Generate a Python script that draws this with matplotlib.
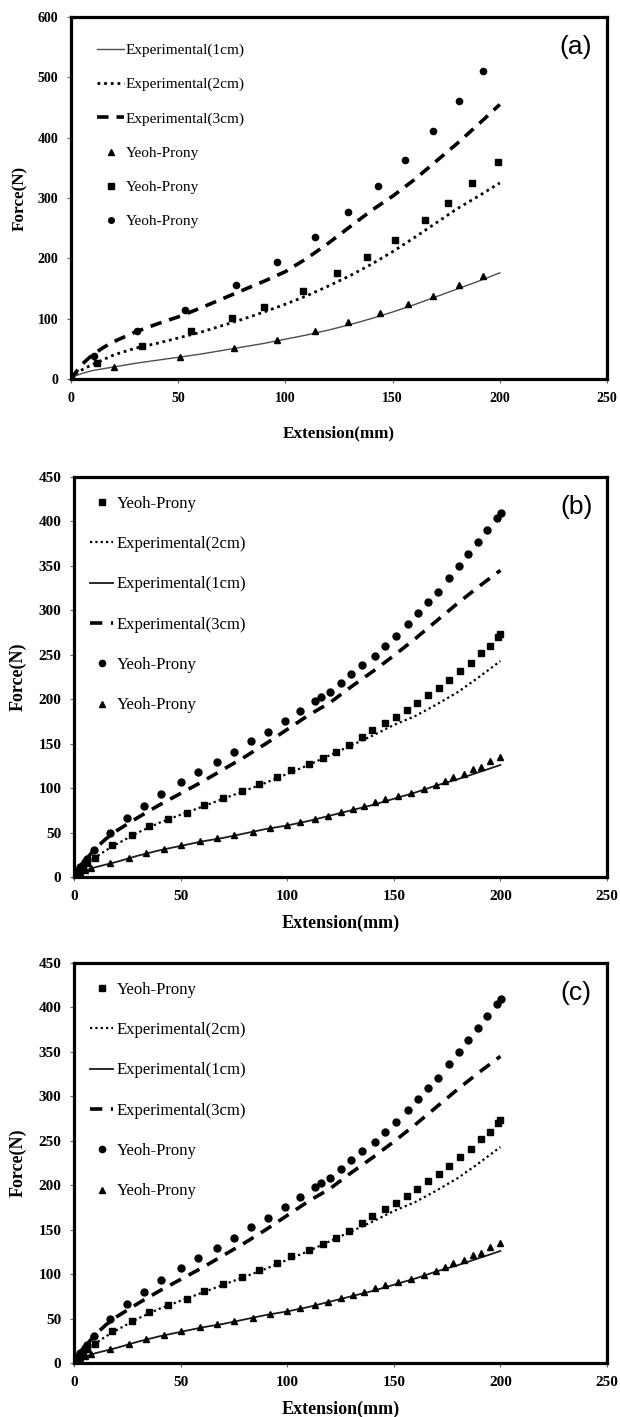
"""
Force vs extension for three strip widths: experimental curves against
Yeoh-Prony model points, three stacked panels (a), (b), (c).
"""

import matplotlib
matplotlib.use("Agg")
import matplotlib.pyplot as plt

# --------------------------------------------------------------------------- #
#  Panel (a) data
# --------------------------------------------------------------------------- #
A_EXP_X = [0, 2, 5, 10, 15, 20, 30, 40, 50, 60, 70, 80, 90, 100, 110, 120,
           130, 140, 150, 160, 170, 180, 190, 200]
A_EXP_1CM = [0, 5, 9, 14, 17, 20, 26, 31, 36, 41, 47, 53, 59, 66, 73, 81,
             90, 100, 111, 123, 136, 149, 162, 176]
A_EXP_2CM = [0, 8, 15, 24, 32, 40, 51, 59, 68, 77, 88, 99, 111, 124, 138, 154,
             171, 190, 211, 234, 258, 282, 303, 325]
A_EXP_3CM = [0, 10, 24, 40, 52, 62, 78, 91, 103, 117, 132, 147, 162, 178, 200,
             225, 252, 279, 303, 330, 360, 390, 422, 455]

A_TRI_X = [0, 20, 51, 76, 96, 114, 129, 144, 157, 169, 181, 192]
A_TRI_Y = [0, 20, 37, 51, 65, 80, 94, 109, 124, 138, 155, 171]
A_SQ_X = [0, 12, 33, 56, 75, 90, 108, 124, 138, 151, 165, 176, 187, 199]
A_SQ_Y = [0, 27, 54, 79, 101, 120, 146, 175, 202, 231, 264, 292, 325, 360]
A_CIR_X = [0, 10.5, 31, 53, 77, 96, 114, 129, 143, 156, 169, 181, 192]
A_CIR_Y = [0, 38, 80, 114, 156, 194, 235, 277, 320, 363, 411, 460, 510]

# --------------------------------------------------------------------------- #
#  Panels (b) and (c) data (same curves in both)
# --------------------------------------------------------------------------- #
B_EXP_X = [0, 2, 5, 10, 15, 20, 30, 40, 50, 60, 70, 80, 90, 100, 110, 120,
           130, 140, 150, 160, 170, 180, 190, 200]
B_EXP_1CM = [0, 4, 7, 11, 14, 17, 24, 30, 35, 40, 44, 49, 54, 58, 63, 69,
             75, 81, 88, 95, 103, 110, 118, 126]
B_EXP_2CM = [0, 6, 13, 22, 30, 37, 50, 61, 70, 79, 88, 97, 106, 116, 126, 137,
             148, 159, 171, 181, 194, 208, 225, 243]
B_EXP_3CM = [0, 8, 18, 32, 43, 52, 67, 81, 94, 107, 121, 135, 150, 166, 182,
             196, 214, 231, 249, 268, 288, 308, 327, 345]

B_TRI_X = [0, 1, 2, 3, 5, 8, 17, 26, 34, 42, 50, 59, 67, 75, 84, 92, 100, 106,
           113, 119, 125, 131, 136, 141, 146, 152, 158, 164, 170, 174, 178,
           183, 187, 191, 195, 200]
B_TRI_Y = [0, 2, 4, 6, 8, 10, 16, 21, 27, 31, 36, 40, 44, 47, 51, 55, 58, 62,
           65, 69, 73, 77, 80, 84, 88, 91, 95, 99, 104, 108, 112, 116, 121,
           124, 130, 135]
B_SQ_X = [0, 2, 4, 6, 10, 18, 27, 35, 44, 53, 61, 70, 79, 87, 95, 102, 110,
          117, 123, 129, 135, 140, 146, 151, 156, 161, 166, 171, 176, 181,
          186, 191, 195, 199, 200]
B_SQ_Y = [0, 5, 10, 16, 21, 36, 47, 57, 65, 72, 81, 89, 97, 105, 112, 120,
          127, 134, 141, 149, 157, 165, 173, 180, 188, 196, 205, 213, 222, 232,
          241, 252, 260, 270, 273]
B_CIR_X = [0, 1, 2, 3, 4, 5, 6, 9.4, 17, 25, 33, 41, 50, 58, 67, 75, 83, 91,
           99, 106, 113, 116, 120, 125, 130, 135, 141, 146, 151, 156.7, 161.4,
           165.9, 170.7, 175.7, 180.8, 185, 189.4, 193.7, 198.2, 200.3]
B_CIR_Y = [0, 3, 7, 11, 14, 17, 20, 30, 49, 66, 80, 93, 107, 118, 129, 141,
           153, 163, 175, 187, 198, 202, 208, 218, 228, 238, 249, 260, 271,
           285, 297, 309, 321, 336, 350, 363, 377, 390, 404, 410]

X_TICKS = [0, 50, 100, 150, 200, 250]

SERIF = "Liberation Serif"
SANS = "Liberation Sans"

# figure is 620 x 1417 px at dpi 100; boxes in figure fractions
BOX_A = [71 / 620, 1 - 379 / 1417, 536 / 620, 362 / 1417]
BOX_B = [74 / 620, 1 - 877 / 1417, 533 / 620, 400 / 1417]
BOX_C = [74 / 620, 1 - 1363 / 1417, 533 / 620, 400 / 1417]


def style_axes(ax, ymax, ystep, tick_size, label_size, xlab_y, ylab_x):
    ax.set_xlim(0, 250)
    ax.set_ylim(0, ymax)
    ax.set_xticks(X_TICKS)
    ax.set_yticks(range(0, ymax + 1, ystep))
    for sp in ax.spines.values():
        sp.set_linewidth(2.3)
        sp.set_color("black")
    ax.tick_params(direction="out", length=3, width=0.8, color="0.4", pad=6)
    for lab in ax.get_xticklabels() + ax.get_yticklabels():
        lab.set_fontfamily(SERIF)
        lab.set_fontweight("bold")
        lab.set_fontsize(tick_size)
    ax.set_xlabel("Extension(mm)", family=SERIF, weight="bold",
                  fontsize=label_size, va="center")
    ax.set_ylabel("Force(N)", family=SERIF, weight="bold",
                  fontsize=label_size, va="center")
    ax.xaxis.set_label_coords(0.5, xlab_y)
    ax.yaxis.set_label_coords(ylab_x, 0.5)


def draw_panel_a(fig):
    ax = fig.add_axes(BOX_A)
    h1, = ax.plot(A_EXP_X, A_EXP_1CM, color="0.3", lw=1.0)
    h2, = ax.plot(A_EXP_X, A_EXP_2CM, color="black", lw=2.0, ls=(0, (1, 1.4)))
    h3, = ax.plot(A_EXP_X, A_EXP_3CM, color="black", lw=2.6, ls=(0, (3.2, 2.2)))
    t, = ax.plot(A_TRI_X, A_TRI_Y, "^", color="black", ms=5, ls="none")
    s, = ax.plot(A_SQ_X, A_SQ_Y, "s", color="black", ms=4.5, ls="none")
    c, = ax.plot(A_CIR_X, A_CIR_Y, "o", color="black", ms=4.5, ls="none")

    ax.legend([h1, h2, h3, t, s, c],
              ["Experimental(1cm)", "Experimental(2cm)", "Experimental(3cm)",
               "Yeoh-Prony", "Yeoh-Prony", "Yeoh-Prony"],
              loc="upper left", bbox_to_anchor=(0.0485, 0.9275),
              frameon=False, borderpad=0, borderaxespad=0,
              handlelength=1.8, handletextpad=0.1, labelspacing=1.34,
              numpoints=1, markerscale=0.9,
              prop={"family": SERIF, "size": 11})
    ax.text(0.942, 0.917, "(a)", transform=ax.transAxes, ha="center",
            va="center", family=SANS, fontsize=19)
    style_axes(ax, 600, 100, 10, 12.3, -0.149, -0.095)


def draw_panel_bc(fig, box, letter):
    ax = fig.add_axes(box)
    h1, = ax.plot(B_EXP_X, B_EXP_1CM, color="0.1", lw=1.3)
    h2, = ax.plot(B_EXP_X, B_EXP_2CM, color="black", lw=1.6, ls=(0, (1, 1.4)))
    h3, = ax.plot(B_EXP_X, B_EXP_3CM, color="black", lw=2.6, ls=(0, (3.4, 2.4)))
    t, = ax.plot(B_TRI_X, B_TRI_Y, "^", color="black", ms=4.5, ls="none")
    s, = ax.plot(B_SQ_X, B_SQ_Y, "s", color="black", ms=4.5, ls="none")
    c, = ax.plot(B_CIR_X, B_CIR_Y, "o", color="black", ms=5, ls="none")

    ax.legend([s, h2, h1, h3, c, t],
              ["Yeoh-Prony", "Experimental(2cm)", "Experimental(1cm)",
               "Experimental(3cm)", "Yeoh-Prony", "Yeoh-Prony"],
              loc="upper left", bbox_to_anchor=(0.030, 0.953),
              frameon=False, borderpad=0, borderaxespad=0,
              handlelength=1.4, handletextpad=0.2, labelspacing=1.46,
              numpoints=1, markerscale=0.9,
              prop={"family": SERIF, "size": 12})
    ax.text(0.942, 0.925, letter, transform=ax.transAxes, ha="center",
            va="center", family=SANS, fontsize=19)
    style_axes(ax, 450, 50, 11, 13, -0.115, -0.105)


def main():
    fig = plt.figure(figsize=(6.2, 14.17), dpi=100)
    draw_panel_a(fig)
    draw_panel_bc(fig, BOX_B, "(b)")
    draw_panel_bc(fig, BOX_C, "(c)")
    fig.savefig("out.png", dpi=100)


if __name__ == "__main__":
    main()
